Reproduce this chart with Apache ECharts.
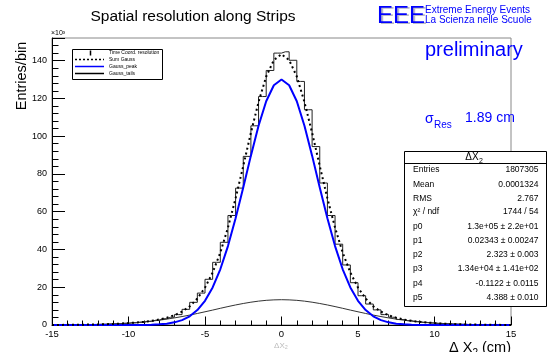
<!DOCTYPE html>
<html>
<head>
<meta charset="utf-8">
<script src="https://cdn.jsdelivr.net/npm/echarts@6/dist/echarts.min.js"></script>
<style>
  html, body { margin: 0; padding: 0; background: #fff; }
  #main { width: 548px; height: 352px; }
</style>
</head>
<body>
<div id="main"></div>
<script>
// entries per 0.5 cm bin (x10^3), bins from -15 to 15
var histCounts = [
    0.05, 0.07, 0.1, 0.14, 0.2, 0.27, 0.37, 0.5, 0.67, 0.88,
    1.15, 1.45, 1.9, 2.5, 3.3, 4.1, 5.5, 8.3, 12.0, 16.9,
    24.2, 33.2, 43.8, 58.0, 72.5, 89.3, 105.5, 121.0, 134.8, 144.0,
    144.7, 140.2, 129.0, 114.0, 94.5, 75.2, 58.0, 42.8, 31.8, 22.4,
    15.5, 11.1, 8.0, 5.5, 4.1, 2.9, 2.3, 1.8, 1.4, 1.1,
    0.85, 0.65, 0.5, 0.37, 0.27, 0.2, 0.14, 0.1, 0.07, 0.05
];
var binStart = -15, binWidth = 0.5;

// fit curves sampled every 0.5 cm from -15 to 15 (x10^3)
var sumGauss = [
    0.04, 0.06, 0.08, 0.12, 0.17, 0.23, 0.32, 0.43, 0.58, 0.77,
    1.00, 1.31, 1.69, 2.20, 2.89, 3.81, 5.15, 7.07, 9.85, 14.0,
    19.8, 27.8, 38.3, 51.6, 67.1, 84.2, 101.8, 118.1, 131.6, 140.3,
    143.4,
    140.3, 131.6, 118.1, 101.8, 84.2, 67.1, 51.6, 38.3, 27.8, 19.8,
    14.0, 9.85, 7.07, 5.15, 3.81, 2.89, 2.20, 1.69, 1.31, 1.00,
    0.77, 0.58, 0.43, 0.32, 0.23, 0.17, 0.12, 0.08, 0.06, 0.04
];
var gaussPeak = [
    0, 0, 0, 0, 0, 0, 0, 0, 0, 0,
    0.01, 0.02, 0.06, 0.15, 0.35, 0.7, 1.4, 2.6, 4.6, 7.9,
    12.8, 19.9, 29.5, 41.8, 56.5, 72.8, 89.7, 105.5, 118.5, 127.0,
    130.0,
    127.0, 118.5, 105.5, 89.7, 72.8, 56.5, 41.8, 29.5, 19.9, 12.8,
    7.9, 4.6, 2.6, 1.4, 0.7, 0.35, 0.15, 0.06, 0.02, 0.01,
    0, 0, 0, 0, 0, 0, 0, 0, 0, 0
];
var gaussTails = [
    0.04, 0.06, 0.08, 0.12, 0.17, 0.23, 0.32, 0.43, 0.58, 0.77,
    0.99, 1.29, 1.63, 2.05, 2.54, 3.11, 3.75, 4.47, 5.25, 6.10,
    7.00, 7.90, 8.84, 9.75, 10.61, 11.39, 12.08, 12.64, 13.06, 13.30,
    13.40,
    13.30, 13.06, 12.64, 12.08, 11.39, 10.61, 9.75, 8.84, 7.90, 7.00,
    6.10, 5.25, 4.47, 3.75, 3.11, 2.54, 2.05, 1.63, 1.29, 0.99,
    0.77, 0.58, 0.43, 0.32, 0.23, 0.17, 0.12, 0.08, 0.06, 0.04
];
var fitStart = -15, fitStep = 0.5;

var legendNames = ['Time Coord. resolution', 'Sum Gauss', 'Gauss_peak', 'Gauss_tails'];
var statLabels = ['Entries', 'Mean', 'RMS', 'χ² / ndf', 'p0', 'p1', 'p2', 'p3', 'p4', 'p5'];
var statValues = ['1807305', '0.0001324', '2.767', '1744 / 54',
    '1.3e+05 ± 2.2e+01', '0.02343 ± 0.00247', '2.323 ± 0.003',
    '1.34e+04 ± 1.41e+02', '-0.1122 ± 0.0115', '4.388 ± 0.010'];

var FONT = 'Liberation Sans, Arial, Helvetica, sans-serif';
var BLUE = '#0000ff';

var histData = histCounts.map(function (v, i) { return [binStart + binWidth * (i + 0.5), v]; });
function fitData(arr) {
    return arr.map(function (v, i) { return [fitStart + fitStep * i, v]; });
}

var myChart = echarts.init(document.getElementById('main'));

// legend box (ROOT TLegend look)
var graphics = [
    { type: 'rect', shape: { x: 72.5, y: 49.5, width: 90, height: 30 },
      style: { fill: '#fff', stroke: '#000', lineWidth: 1 }, z: 10 },
    { type: 'line', shape: { x1: 90.5, y1: 50.5, x2: 90.5, y2: 55.5 },
      style: { stroke: '#000', lineWidth: 1.5 }, z: 11 },
    { type: 'line', shape: { x1: 75, y1: 59.5, x2: 104, y2: 59.5 },
      style: { stroke: '#000', lineWidth: 1.5, lineDash: [2, 2] }, z: 11 },
    { type: 'line', shape: { x1: 75, y1: 66.5, x2: 104, y2: 66.5 },
      style: { stroke: BLUE, lineWidth: 1.5 }, z: 11 },
    { type: 'line', shape: { x1: 75, y1: 73.5, x2: 104, y2: 73.5 },
      style: { stroke: '#000', lineWidth: 1.5 }, z: 11 }
];
var legendY = [52.5, 59.5, 66.5, 73.5];
legendNames.forEach(function (n, i) {
    graphics.push({ type: 'text', x: 109, y: legendY[i], z: 11,
        style: { text: n, fill: '#000', font: '5px ' + FONT, textAlign: 'left', textVerticalAlign: 'middle' } });
});

// stats box
graphics.push(
    { type: 'rect', shape: { x: 404.5, y: 151.5, width: 142, height: 155 },
      style: { fill: '#fff', stroke: '#000', lineWidth: 1 }, z: 10 },
    { type: 'line', shape: { x1: 404.5, y1: 163.5, x2: 546.5, y2: 163.5 },
      style: { stroke: '#000', lineWidth: 1 }, z: 11 },
    { type: 'text', x: 472, y: 157.5, z: 11,
      style: { text: 'ΔX', fill: '#000', font: '10px ' + FONT, textAlign: 'center', textVerticalAlign: 'middle' } },
    { type: 'text', x: 479, y: 161, z: 11,
      style: { text: '2', fill: '#000', font: '7px ' + FONT, textAlign: 'left', textVerticalAlign: 'middle' } }
);
var statY = [170, 184.5, 198.5, 212, 226.5, 240.5, 255, 269, 284, 298];
statLabels.forEach(function (l, i) {
    graphics.push({ type: 'text', x: 413, y: statY[i], z: 11,
        style: { text: l, fill: '#000', font: '8.5px ' + FONT, textAlign: 'left', textVerticalAlign: 'middle' } });
    graphics.push({ type: 'text', x: 538.5, y: statY[i], z: 11,
        style: { text: statValues[i], fill: '#000', font: '8.5px ' + FONT, textAlign: 'right', textVerticalAlign: 'middle' } });
});

// titles and labels
graphics.push(
    { type: 'text', x: 90.5, y: 17, style: { text: 'Spatial resolution along Strips', fill: '#000',
        font: '15.5px ' + FONT, textAlign: 'left', textVerticalAlign: 'middle' } },
    { type: 'text', x: 379, y: 17.5, style: { text: 'EEE', fill: '#b8b8c8',
        font: '24px ' + FONT, textAlign: 'left', textVerticalAlign: 'middle' } },
    { type: 'text', x: 377, y: 16, style: { text: 'EEE', fill: BLUE,
        font: '24px ' + FONT, textAlign: 'left', textVerticalAlign: 'middle' } },
    { type: 'text', x: 425, y: 10, style: { text: 'Extreme Energy Events', fill: BLUE,
        font: '10px ' + FONT, textAlign: 'left', textVerticalAlign: 'middle' } },
    { type: 'text', x: 425, y: 20.5, style: { text: 'La Scienza nelle Scuole', fill: BLUE,
        font: '10px ' + FONT, textAlign: 'left', textVerticalAlign: 'middle' } },
    { type: 'text', x: 425, y: 50, style: { text: 'preliminary', fill: BLUE,
        font: '20px ' + FONT, textAlign: 'left', textVerticalAlign: 'middle' } },
    { type: 'text', x: 425, y: 119, style: { text: 'σ', fill: BLUE,
        font: '14px ' + FONT, textAlign: 'left', textVerticalAlign: 'middle' } },
    { type: 'text', x: 434, y: 125, style: { text: 'Res', fill: BLUE,
        font: '10px ' + FONT, textAlign: 'left', textVerticalAlign: 'middle' } },
    { type: 'text', x: 465, y: 118.5, style: { text: '1.89 cm', fill: BLUE,
        font: '14px ' + FONT, textAlign: 'left', textVerticalAlign: 'middle' } },
    { type: 'text', x: 22, y: 76, rotation: Math.PI / 2, style: { text: 'Entries/bin', fill: '#000',
        font: '14.5px ' + FONT, textAlign: 'center', textVerticalAlign: 'middle' } },
    { type: 'text', x: 51, y: 33.5, style: { text: '×10³', fill: '#000',
        font: '7px ' + FONT, textAlign: 'left', textVerticalAlign: 'middle' } },
    { type: 'text', x: 449, y: 348, style: { text: 'Δ X', fill: '#000',
        font: '14.5px ' + FONT, textAlign: 'left', textVerticalAlign: 'middle' } },
    { type: 'text', x: 472.5, y: 353, style: { text: '2', fill: '#000',
        font: '10px ' + FONT, textAlign: 'left', textVerticalAlign: 'middle' } },
    { type: 'text', x: 511, y: 348, style: { text: ' (cm)', fill: '#000',
        font: '14.5px ' + FONT, textAlign: 'right', textVerticalAlign: 'middle' } },
    { type: 'text', x: 281, y: 346, style: { text: 'ΔX₂', fill: '#bbb',
        font: '8px ' + FONT, textAlign: 'center', textVerticalAlign: 'middle' } }
);

option = {
    animation: false,
    backgroundColor: '#fff',
    grid: {
        left: 52, right: 37, top: 38, bottom: 27,
        show: true, borderColor: '#888', borderWidth: 1, backgroundColor: 'transparent'
    },
    xAxis: {
        type: 'value',
        min: -15, max: 15, interval: 5,
        axisLine: { show: true, onZero: false, lineStyle: { color: '#000', width: 1 } },
        axisTick: { show: true, inside: true, length: 8.5, lineStyle: { color: '#000' } },
        minorTick: { show: true, splitNumber: 5, length: 4.5, lineStyle: { color: '#000' } },
        axisLabel: { color: '#000', fontSize: 9.5, fontFamily: FONT, margin: 4 },
        splitLine: { show: false }
    },
    yAxis: {
        type: 'value',
        min: 0, max: 152, interval: 20,
        axisLine: { show: true, onZero: false, lineStyle: { color: '#000', width: 1 } },
        axisTick: { show: true, inside: true, length: 13, lineStyle: { color: '#000' } },
        minorTick: { show: true, splitNumber: 5, length: 6.5, lineStyle: { color: '#000' } },
        axisLabel: { color: '#000', fontSize: 9, fontFamily: FONT, margin: 5, showMaxLabel: false },
        splitLine: { show: false }
    },
    graphic: graphics,
    series: [
        {
            name: legendNames[0], type: 'line', step: 'middle', symbol: 'none',
            data: histData, lineStyle: { color: '#222', width: 1 }, z: 2
        },
        {
            name: legendNames[3], type: 'line', symbol: 'none',
            data: fitData(gaussTails), lineStyle: { color: '#333', width: 1 }, z: 3
        },
        {
            name: legendNames[2], type: 'line', symbol: 'none',
            data: fitData(gaussPeak), lineStyle: { color: BLUE, width: 2 }, z: 4
        },
        {
            name: legendNames[1], type: 'line', symbol: 'none',
            data: fitData(sumGauss), lineStyle: { color: '#000', width: 2, type: [2, 3] }, z: 5
        }
    ]
};
myChart.setOption(option);
</script>
</body>
</html>
